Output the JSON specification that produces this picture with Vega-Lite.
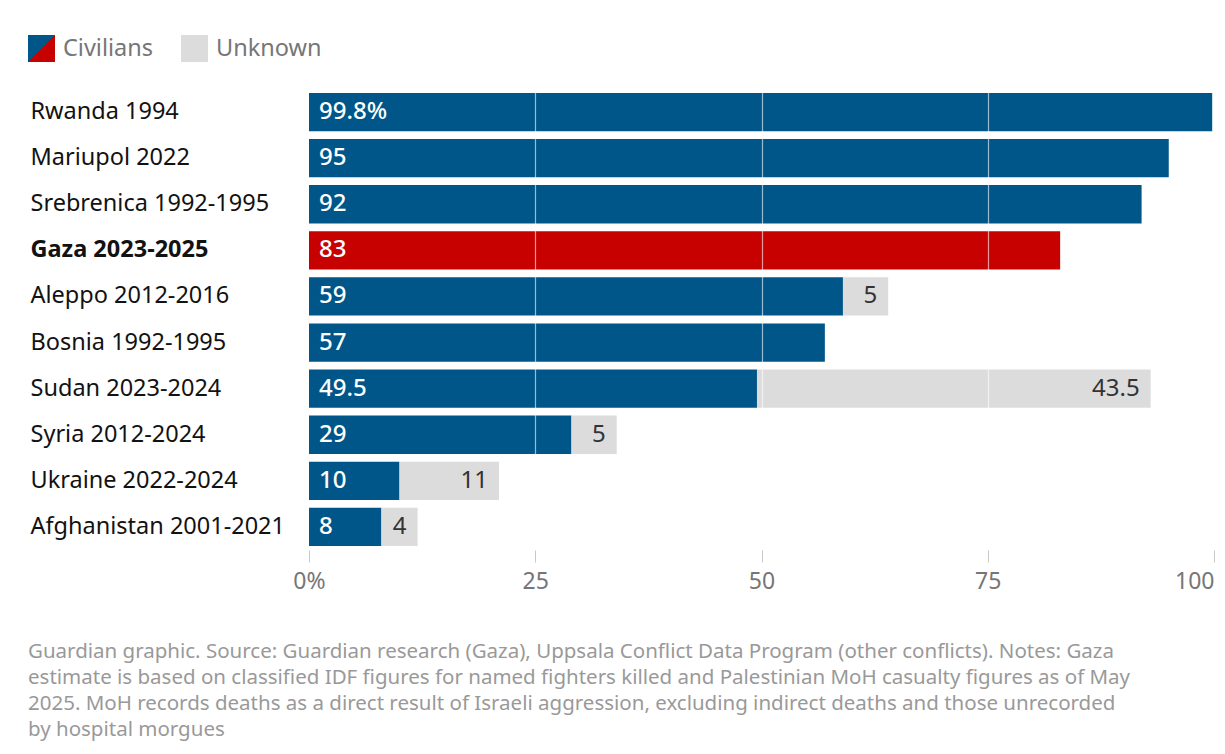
{
  "$schema": "https://vega.github.io/schema/vega-lite/v6.json",
  "width": 905,
  "height": 461,
  "autosize": {"type": "none"},
  "padding": {"left": 309, "top": 89, "right": 11, "bottom": 204},
  "background": "white",
  "config": {"view": {"stroke": null}, "font": "Noto Sans"},
  "data": {
    "values": [
      {"conflict": "Rwanda 1994", "type": "Civilians", "value": 99.8, "label": "99.8%"},
      {"conflict": "Mariupol 2022", "type": "Civilians", "value": 95, "label": "95"},
      {"conflict": "Srebrenica 1992-1995", "type": "Civilians", "value": 92, "label": "92"},
      {"conflict": "Gaza 2023-2025", "type": "Gaza", "value": 83, "label": "83"},
      {"conflict": "Aleppo 2012-2016", "type": "Civilians", "value": 59, "label": "59"},
      {"conflict": "Bosnia 1992-1995", "type": "Civilians", "value": 57, "label": "57"},
      {"conflict": "Sudan 2023-2024", "type": "Civilians", "value": 49.5, "label": "49.5"},
      {"conflict": "Syria 2012-2024", "type": "Civilians", "value": 29, "label": "29"},
      {"conflict": "Ukraine 2022-2024", "type": "Civilians", "value": 10, "label": "10"},
      {"conflict": "Afghanistan 2001-2021", "type": "Civilians", "value": 8, "label": "8"},
      {"conflict": "Aleppo 2012-2016", "type": "Unknown", "value": 5, "label": "5"},
      {"conflict": "Sudan 2023-2024", "type": "Unknown", "value": 43.5, "label": "43.5"},
      {"conflict": "Syria 2012-2024", "type": "Unknown", "value": 5, "label": "5"},
      {"conflict": "Ukraine 2022-2024", "type": "Unknown", "value": 11, "label": "11"},
      {"conflict": "Afghanistan 2001-2021", "type": "Unknown", "value": 4, "label": "4"}
    ]
  },
  "title": {
    "text": [
      "Guardian graphic. Source: Guardian research (Gaza), Uppsala Conflict Data Program (other conflicts). Notes: Gaza",
      "estimate is based on classified IDF figures for named fighters killed and Palestinian MoH casualty figures as of May",
      "2025. MoH records deaths as a direct result of Israeli aggression, excluding indirect deaths and those unrecorded",
      "by hospital morgues"
    ],
    "orient": "bottom",
    "anchor": "start",
    "frame": "bounds",
    "fontSize": 20.5,
    "fontWeight": "normal",
    "color": "#999999",
    "lineHeight": 26,
    "offset": 49
  },
  "encoding": {
    "y": {
      "field": "conflict",
      "type": "nominal",
      "sort": ["Rwanda 1994", "Mariupol 2022", "Srebrenica 1992-1995", "Gaza 2023-2025", "Aleppo 2012-2016", "Bosnia 1992-1995", "Sudan 2023-2024", "Syria 2012-2024", "Ukraine 2022-2024", "Afghanistan 2001-2021"],
      "scale": {"paddingInner": 0.17, "paddingOuter": 0.085},
      "axis": {
        "title": null,
        "domain": false,
        "ticks": false,
        "tickSize": 0,
        "labelAlign": "left",
        "labelPadding": 279,
        "labelFontSize": 23.5,
        "labelColor": "#121212",
        "labelLimit": 300,
        "labelFontWeight": {"condition": {"test": "datum.value == 'Gaza 2023-2025'", "value": "bold"}, "value": "normal"}
      }
    }
  },
  "layer": [
    {
      "transform": [{"filter": "datum.type == 'Civilians'"}],
      "mark": {"type": "point", "filled": true, "opacity": 0, "color": "#c70000"},
      "encoding": {
        "x": {"field": "value", "type": "quantitative"},
        "shape": {
          "field": "type",
          "type": "nominal",
          "scale": {"domain": ["Civilians"], "range": ["M-1,1L1,-1L1,1Z"]},
          "legend": {
            "orient": "none",
            "legendX": -281,
            "legendY": -54,
            "direction": "horizontal",
            "title": null,
            "symbolSize": 729,
            "symbolFillColor": "#c70000",
            "symbolStrokeWidth": 0,
            "symbolOpacity": 1,
            "labelOpacity": 0,
            "labelFontSize": 23.5,
            "labelOffset": 8,
            "padding": 0,
            "zindex": 2
          }
        }
      }
    },
    {
      "mark": {"type": "bar"},
      "encoding": {
        "x": {
          "field": "value",
          "type": "quantitative",
          "stack": "zero",
          "scale": {"domain": [0, 100]},
          "axis": {
            "title": null,
            "values": [0, 25, 50, 75, 100],
            "domain": false,
            "grid": true,
            "gridColor": "white",
            "gridWidth": 1.2,
            "gridOpacity": {"condition": {"test": "datum.value == 0 || datum.value == 100", "value": 0}, "value": 0.6},
            "zindex": 1,
            "tickColor": "#c8c8c8",
            "tickSize": 12,
            "labelFontSize": 23,
            "labelColor": "#767676",
            "labelPadding": 8,
            "labelExpr": "datum.value == 0 ? '0%' : datum.label",
            "labelAlign": {"condition": {"test": "datum.value == 100", "value": "right"}, "value": "center"}
          }
        },
        "color": {
          "field": "type",
          "type": "nominal",
          "scale": {"domain": ["Civilians", "Unknown", "Gaza"], "range": ["#005689", "#dcdcdc", "#c70000"]},
          "legend": {
            "orient": "none",
            "legendX": -281,
            "legendY": -54,
            "direction": "horizontal",
            "title": null,
            "values": ["Civilians", "Unknown"],
            "symbolType": "square",
            "symbolSize": 729,
            "symbolStrokeWidth": 0,
            "symbolOpacity": 1,
            "labelFontSize": 23.5,
            "labelColor": "#767676",
            "labelOffset": 8,
            "columnPadding": 27,
            "padding": 0,
            "zindex": 1
          }
        },
        "order": {"field": "type", "sort": "ascending"}
      }
    },
    {
      "transform": [{"filter": "datum.type != 'Unknown'"}],
      "mark": {"type": "text", "align": "left", "dx": 10, "color": "white", "fontSize": 24, "fontWeight": 500},
      "encoding": {
        "x": {"datum": 0, "type": "quantitative"},
        "text": {"field": "label"}
      }
    },
    {
      "transform": [
        {"joinaggregate": [{"op": "sum", "field": "value", "as": "total"}], "groupby": ["conflict"]},
        {"filter": "datum.type == 'Unknown'"}
      ],
      "mark": {"type": "text", "align": "right", "dx": -11, "color": "#333333", "fontSize": 24},
      "encoding": {
        "x": {"field": "total", "type": "quantitative"},
        "text": {"field": "label"}
      }
    }
  ]
}
